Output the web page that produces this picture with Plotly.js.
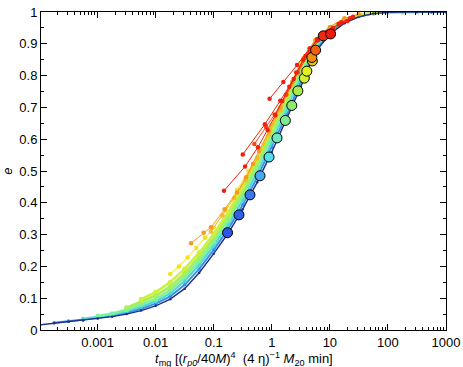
<!DOCTYPE html>
<html><head><meta charset="utf-8">
<script src="https://cdn.plot.ly/plotly-3.0.1.min.js"></script>
<style>html,body{margin:0;padding:0;background:#fff}#chart{width:463px;height:367px}</style>
</head><body><div id="chart"></div>
<script>
// time grid (t_mg), 0.25-decade steps
const tGrid = [0.0001,0.000178,0.000316,0.000562,0.001,0.00178,0.00316,0.00562,0.01,0.0178,0.0316,0.0562,0.1,0.178,0.316,0.562,1,1.78,3.16,5.62,10,17.8,31.6,56.2,100,178,316,562,1000];
// band of runs (lowest envelope -> upper edge)
const eEnvelope = [0.016,0.021,0.026,0.030,0.036,0.042,0.050,0.061,0.076,0.097,0.130,0.180,0.240,0.305,0.380,0.465,0.560,0.660,0.765,0.875,0.930,0.965,0.985,0.995,0.999,1,1,1,1];
const eBlue = [null,0.023,0.028,0.032,0.038,0.045,0.054,0.067,0.083,0.106,0.142,0.192,0.252,0.318,0.394,0.480,0.575,0.675,0.780,0.882,0.934,0.967,0.986,0.995,0.999,1,1,1,1];
const eLightBlue = [null,null,null,0.035,0.041,0.048,0.059,0.073,0.090,0.115,0.154,0.205,0.265,0.331,0.409,0.495,0.590,0.690,0.795,0.889,0.938,0.970,0.987,0.996,0.999,1,1,1,null];
const eCyan = [null,null,null,null,0.044,0.052,0.064,0.080,0.097,0.125,0.166,0.217,0.277,0.345,0.423,0.511,0.606,0.705,0.810,0.896,0.943,0.972,0.989,0.996,0.999,1,1,null,null];
const eGreen = [null,null,null,null,null,null,0.070,0.089,0.108,0.136,0.178,0.230,0.290,0.358,0.437,0.526,0.621,0.720,0.825,0.903,0.947,0.975,0.990,0.997,1,1,null,null,null];
const eYellowGreen = [null,null,null,null,null,null,null,0.097,0.119,0.150,0.192,0.243,0.302,0.371,0.451,0.541,0.636,0.736,0.840,0.910,0.951,0.977,0.991,0.997,1,null,null,null,null];

// runs starting above the band
const tYellow = [0.0178,0.0251,0.0355,0.0501,0.0708,0.1,0.158,0.251,0.398,0.631,1,1.78,3.16];
const eYellow = [0.176,0.200,0.228,0.258,0.290,0.322,0.378,0.440,0.500,0.568,0.645,0.740,0.835];
const tOrange1 = [0.0406,0.067,0.0897,0.154,0.252,0.36,0.474,0.603,0.891,1.41,2.24,3.55,5.62,10,17.8,31.6];
const eOrange1 = [0.273,0.306,0.323,0.380,0.432,0.480,0.522,0.563,0.625,0.700,0.780,0.855,0.912,0.953,0.980,0.993];
const tOrange2 = [0.0891,0.141,0.224,0.355,0.562,0.891,1.41,2.24,3.55,5.62];
const eOrange2 = [0.310,0.360,0.415,0.472,0.540,0.615,0.692,0.772,0.848,0.905];
const tRedA = [0.150,0.346,0.578,0.847,1.15,1.51,2.0,2.63,3.47,4.57,6.03,7.94,11.2,15.8,25.1];
const eRedA = [0.438,0.514,0.575,0.629,0.675,0.720,0.765,0.810,0.850,0.885,0.910,0.930,0.950,0.968,0.985];
const tRedB = [0.316,0.759,1.40,2.38,3.80,6.03,8.91,14.1,22.4];
const eRedB = [0.552,0.647,0.721,0.789,0.862,0.915,0.938,0.962,0.980];
const tRedC = [0.916,1.58,2.72,4.47,6.31,11.2,20.0];
const eRedC = [0.727,0.780,0.833,0.885,0.912,0.945,0.972];
const tRedD = [0.501,0.794,1.12,1.78,2.82,4.47,7.08];
const eRedD = [0.585,0.638,0.678,0.740,0.810,0.875,0.920];

// highlighted snapshots
const tCircles = [0.173,0.272,0.421,0.627,0.895,1.23,1.71,2.21,2.81,3.63,4.01,4.99,4.89,5.68,7.71,10.3];
const eCircles = [0.306,0.362,0.425,0.485,0.544,0.604,0.659,0.706,0.752,0.792,0.814,0.846,0.857,0.880,0.925,0.931];
const circleColors = ['#2d55e6','#3060ea','#3a78ee','#4aa8f2','#55e0f0','#6ee8c0','#7fe890','#90e870','#a6ea50','#d0f030','#e4f020','#f0c010','#f09010','#f06010','#f02a10','#ee1a10'];

const xTickVals = [0.001,0.01,0.1,1,10,100,1000];
const xTickText = ['0.001','0.01','0.1','1','10','100','1000'];
const xTitle = '<i>t</i><sub>mg</sub> [(<i>r</i><sub><i>p0</i></sub>/40<i>M</i>)<sup>4</sup>\u00a0\u00a0(4 \u03b7)<sup>\u22121</sup> <i>M</i><sub>20</sub> min]';

function band(y, color, lw, ms){
  return {x:tGrid, y:y, type:'scatter', mode:'lines+markers', connectgaps:false,
    line:{color:color, width:lw}, marker:{color:color, size:ms}, hoverinfo:'skip'};
}
function run(x, y, color){
  return {x:x, y:y, type:'scatter', mode:'lines+markers',
    line:{color:color, width:1}, marker:{color:color, size:4.5}, hoverinfo:'skip'};
}
const traces = [
  band(eBlue,'#3d8ee6',2,3.5),
  band(eLightBlue,'#4cd8d8',2.2,4),
  band(eCyan,'#7ef0a0',2.6,4.5),
  band(eGreen,'#a6f058',2.8,5),
  band(eYellowGreen,'#ccf040',2.6,5),
  band(eEnvelope,'#1c2f8c',1.4,2.5),
  run(tYellow,eYellow,'#f2e21a'),
  run(tOrange2,eOrange2,'#f8b830'),
  run(tOrange1,eOrange1,'#f59a20'),
  run(tRedD,eRedD,'#f04a10'),
  run(tRedA,eRedA,'#f02010'),
  run(tRedB,eRedB,'#f02010'),
  run(tRedC,eRedC,'#f02010'),
  {x:tCircles, y:eCircles, type:'scatter', mode:'markers',
   marker:{size:10, color:circleColors, line:{color:'#000', width:1}}, hoverinfo:'skip'}
];

const axisCommon = {ticks:'inside', ticklen:6, tickwidth:1, tickcolor:'#000', linecolor:'#000', linewidth:1,
  mirror:'allticks', showgrid:false, zeroline:false, showline:true};

const layout = {
  width:463, height:367,
  margin:{l:41, r:17, t:12, b:37},
  paper_bgcolor:'#fff', plot_bgcolor:'#fff', showlegend:false,
  font:{family:'Liberation Sans, Arial, sans-serif', size:13, color:'#000'},
  xaxis:Object.assign({}, axisCommon, {
    type:'log', range:[-3.975, 3], tickmode:'array', tickvals:xTickVals, ticktext:xTickText,
    minor:{ticks:'inside', ticklen:3, tickcolor:'#000', dtick:'D1', showgrid:false}
  }),
  yaxis:Object.assign({}, axisCommon, {
    range:[0,1], tickmode:'linear', tick0:0, dtick:0.1,
    minor:{ticks:'inside', ticklen:3, tickcolor:'#000', dtick:0.05, showgrid:false},
    title:{text:'<i>e</i>', font:{size:13}, standoff:6}
  }),
  annotations:[{text:xTitle, xref:'paper', yref:'paper', x:0.5, y:-0.09, xanchor:'center', yanchor:'middle',
    showarrow:false, font:{size:13}}]
};
Plotly.newPlot('chart', traces, layout, {staticPlot:true, displayModeBar:false});
</script>
</body></html>
